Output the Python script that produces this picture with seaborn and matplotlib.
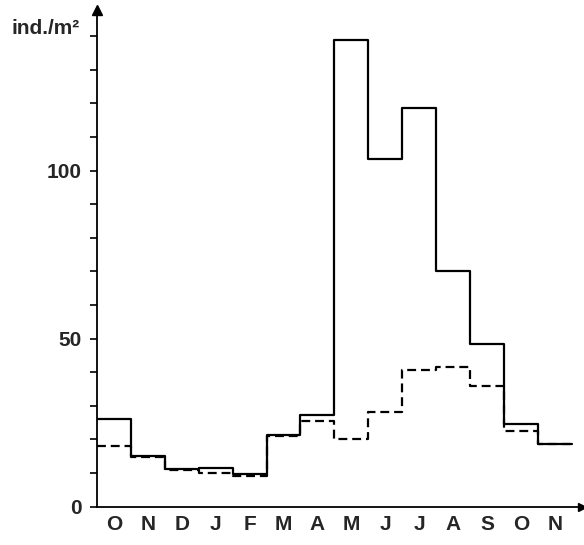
import numpy as np
import pandas as pd
import matplotlib
matplotlib.use("Agg")
import matplotlib.pyplot as plt
import seaborn as sns

months = ["O", "N", "D", "J", "F", "M", "A", "M", "J", "J", "A", "S", "O", "N"]
solid_values = [26.0, 15.1, 11.1, 11.6, 9.6, 21.3, 27.3, 139.0, 103.5, 118.6, 70.0, 48.4, 24.5, 18.7]
dashed_values = [18.1, 14.9, 10.9, 9.9, 9.2, 21.0, 25.6, 20.1, 28.3, 40.7, 41.7, 36.0, 22.5, 18.7]
y_major = [0, 50, 100]
y_minor = list(range(0, 150, 10))
y_label = "ind./m²"

sns.set_style("ticks")
plt.rcParams["font.family"] = ["Liberation Sans", "DejaVu Sans"]

n = len(months)
# step edges: each bin starts at its index; repeat last value to close final bin
df = pd.DataFrame({"edge": np.arange(n + 1),
                   "solid": solid_values + [solid_values[-1]],
                   "dashed": dashed_values + [dashed_values[-1]]})

fig = plt.figure(figsize=(5.84, 5.45), dpi=100)
ax = fig.add_axes([0.166, 0.0703, 0.8305, 0.9114])

sns.lineplot(data=df, x="edge", y="solid", drawstyle="steps-post",
             color="black", linewidth=1.6, ax=ax)
sns.lineplot(data=df, x="edge", y="dashed", drawstyle="steps-post",
             color="black", linewidth=1.6, linestyle=(0, (4, 2.2)), ax=ax)

ax.set_xlim(0, 14.3)
ax.set_ylim(0, 147.8)
ax.set_xlabel("")
ax.set_ylabel("")

for s in ["top", "right"]:
    ax.spines[s].set_visible(False)
for s in ["left", "bottom"]:
    ax.spines[s].set_linewidth(1.3)
    ax.spines[s].set_color("black")

ax.set_yticks(y_major)
ax.set_yticklabels([str(v) for v in y_major], fontsize=15, fontweight="bold")
ax.set_yticks(y_minor, minor=True)
ax.tick_params(axis="y", which="both", direction="out", length=5, width=1.2, color="black", pad=6)

ax.set_xticks(np.arange(n) + 0.5)
ax.set_xticklabels(months, fontsize=15, fontweight="bold")
ax.tick_params(axis="x", length=0, pad=6)

# axis arrows
ax.plot([0], [147.8], marker="^", color="black", markersize=7, clip_on=False)
ax.plot([14.3], [0], marker=">", color="black", markersize=6, clip_on=False)

fig.text(80 / 584, 1 - 29 / 545, y_label, ha="right", va="center", fontsize=15, fontweight="bold")

fig.savefig("out.png", dpi=100, facecolor="white")
